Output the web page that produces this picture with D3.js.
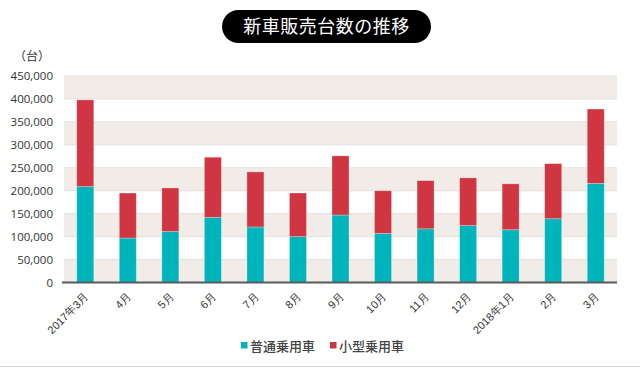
<!DOCTYPE html>
<html><head><meta charset="utf-8">
<script src="https://cdn.jsdelivr.net/npm/d3@7"></script>
<style>
html,body{margin:0;padding:0;background:#fff;}
svg{display:block;font-family:"Noto Sans CJK JP","Noto Sans",sans-serif;}
</style></head>
<body><svg id="c" width="640" height="368"></svg>
<script>
const categories = ["2017年3月","4月","5月","6月","7月","8月","9月","10月","11月","12月","2018年1月","2月","3月"];
const futsu = [209000, 97000, 111000, 142000, 121000, 100000, 147000, 107000, 117000, 124000, 115000, 139000, 216000];
const kogata = [189000, 98000, 95000, 131000, 120000, 95000, 129000, 93000, 105000, 104000, 100000, 120000, 162000];
const seriesNames = ["普通乗用車","小型乗用車"];
const yTicks = [0,50000,100000,150000,200000,250000,300000,350000,400000,450000];
const colors = ["#00b4bc","#cf3641"];

const svg = d3.select("#c");
const m = {l:64, r:617, t:76, b:282.5};
const x = d3.scaleBand().domain(categories).range([m.l, m.r]).paddingInner(0.6).paddingOuter(0.3);
const y = d3.scaleLinear().domain([0,450000]).range([m.b, m.t]);

// bands
const bands = d3.range(0, yTicks.length-1).filter(i => i % 2 === 0);
svg.append("g").selectAll("rect").data(bands).join("rect")
  .attr("x", m.l).attr("width", m.r - m.l)
  .attr("y", i => y(yTicks[i+1])).attr("height", i => y(yTicks[i]) - y(yTicks[i+1]))
  .attr("fill", "#f1ece7");
// grid lines
svg.append("g").selectAll("line").data(yTicks.slice(1)).join("line")
  .attr("x1", m.l).attr("x2", m.r).attr("y1", d => y(d)).attr("y2", d => y(d))
  .attr("stroke", "#e3dfdb").attr("stroke-width", 1);

// stacked data
const rows = categories.map((c,i) => ({cat:c, a:futsu[i], b:kogata[i]}));
const stack = d3.stack().keys(["a","b"])(rows);
svg.append("g").selectAll("g").data(stack).join("g")
  .attr("fill", (d,i) => colors[i])
  .selectAll("rect").data(d => d).join("rect")
  .attr("x", d => x(d.data.cat)).attr("width", x.bandwidth())
  .attr("y", d => y(d[1])).attr("height", d => y(d[0]) - y(d[1]))
  .attr("stroke", "rgba(255,255,255,0.35)").attr("stroke-width", 0.8);

// y axis
const ya = svg.append("g").attr("transform", `translate(${m.l},0)`)
  .call(d3.axisLeft(y).tickValues(yTicks).tickSize(0).tickPadding(11).tickFormat(d3.format(",")));
ya.select(".domain").remove();
ya.selectAll("text").attr("fill","#333").attr("font-size", 11.5)
  .attr("font-family", "'Open Sans','Noto Sans',sans-serif");

// x axis
const xa = svg.append("g").attr("transform", `translate(0,${m.b})`)
  .call(d3.axisBottom(x).tickSize(0).tickPadding(0));
xa.select(".domain").remove();
xa.selectAll("text").attr("fill","#333").attr("font-size", 11).attr("font-weight", 500)
  .attr("text-anchor","end").attr("dy", 0)
  .attr("transform", "translate(4,15) rotate(-45)");
svg.append("line").attr("x1", m.l - 2).attr("x2", m.r).attr("y1", m.b).attr("y2", m.b)
  .attr("stroke", "#5a5a5a").attr("stroke-width", 2);

// unit label
svg.append("text").attr("x", 32).attr("y", 61).attr("text-anchor","middle")
  .attr("font-size", 12).attr("fill","#333").text("（台）");

// title
svg.append("rect").attr("x", 222).attr("y", 10).attr("width", 209).attr("height", 33)
  .attr("rx", 16.5).attr("fill", "#000");
svg.append("text").attr("x", 326.5).attr("y", 33).attr("text-anchor","middle")
  .attr("font-size", 18).attr("fill","#fff").attr("letter-spacing", 0.5).text("新車販売台数の推移");

// legend
const lg = svg.append("g");
const lx = [241, 330];
seriesNames.forEach((n,i) => {
  lg.append("rect").attr("x", lx[i]).attr("y", 342).attr("width", 6.5).attr("height", 6.5).attr("fill", colors[i]);
  lg.append("text").attr("x", lx[i] + 9).attr("y", 350.5).attr("font-size", 13).attr("font-weight", 500).attr("fill","#444").text(n);
});

// bottom rule
svg.append("line").attr("x1", 0).attr("x2", 640).attr("y1", 366.5).attr("y2", 366.5)
  .attr("stroke", "#d4d4d4").attr("stroke-width", 1);
</script></body></html>
